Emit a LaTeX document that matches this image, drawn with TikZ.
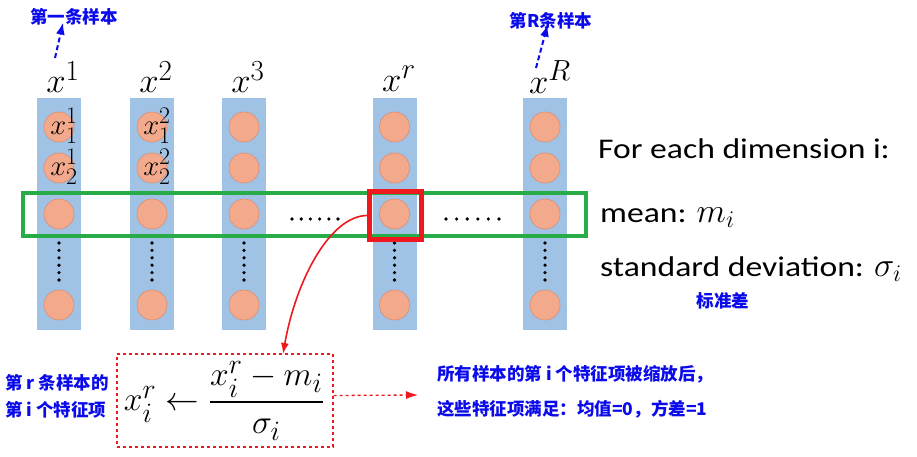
\RequirePackage{fix-cm}
\documentclass[tikz,border=0pt]{standalone}
\usepackage{fontspec}
\usepackage{amsmath}
\usepackage{graphicx}
\setsansfont{Carlito}[FakeStretch=1.18]
\newfontfamily\cjk{Noto Sans CJK SC}
\usetikzlibrary{arrows.meta,calc}
\definecolor{barblue}{RGB}{160,194,228}
\definecolor{ballfill}{RGB}{243,170,140}
\definecolor{ballline}{RGB}{222,140,110}
\definecolor{gbox}{RGB}{40,172,72}
\definecolor{rbox}{RGB}{238,24,30}
\definecolor{cnblue}{RGB}{10,10,235}
\newcommand{\bigmath}[2]{\scalebox{#1}{$#2$}}
\begin{document}
\begin{tikzpicture}[x=1pt,y=-1pt,
  bar/.style={fill=barblue,draw=none,minimum width=44pt,minimum height=232pt,inner sep=0pt},
  ball/.style={circle,fill=ballfill,draw=ballline,line width=0.6pt,minimum size=30pt,inner sep=0pt},
  mathlabel/.style={inner sep=0pt,font=\fontsize{24.88}{28}\selectfont},
  cntext/.style={inner sep=0pt,text=cnblue,font=\fontsize{17.5}{20}\selectfont\cjk\bfseries},
  entext/.style={inner sep=0pt,anchor=base west,font=\fontsize{28.5}{32}\selectfont\sffamily},
  bluearrow/.style={cnblue,line width=2pt,dash pattern=on 5pt off 3pt,-{Latex[length=12pt,width=9pt]}},
  dotc/.style={fill=black}]
\useasboundingbox (0,0) rectangle (917,457);
% columns
\foreach \c/\x in {1/59,2/152,3/244,r/394.5,R/545}{
  \node[bar] (bar\c) at (\x,214) {};
  \node[ball] (c\c-1) at (\x,127) {};
  \node[ball] (c\c-2) at (\x,168) {};
  \node[ball] (c\c-3) at (\x,214) {};
  \node[ball] (c\c-4) at (\x,305) {};
  \foreach \k in {0,...,5}{\fill[dotc] (\x,243+\k*7.4) circle (1.8pt);}
}
% column labels
\node[mathlabel] (lab1) at (63,77) {\bigmath{1.4}{x^1}};
\node[mathlabel] (lab2) at (156,77) {\bigmath{1.4}{x^2}};
\node[mathlabel] (lab3) at (248,77) {\bigmath{1.4}{x^3}};
\node[mathlabel] (labr) at (399,79) {\bigmath{1.4}{x^r}};
\node[mathlabel] (labR) at (550,77) {\bigmath{1.4}{x^R}};
% inner labels
\node[mathlabel] (l11) at (64,126) {\bigmath{1.15}{x_1^1}};
\node[mathlabel] (l12) at (64,167) {\bigmath{1.15}{x_2^1}};
\node[mathlabel] (l21) at (157,126) {\bigmath{1.15}{x_1^2}};
\node[mathlabel] (l22) at (157,167) {\bigmath{1.15}{x_2^2}};
% horizontal dots
\foreach \k in {0,...,5}{
  \fill[dotc] (292+\k*9.2,219) circle (1.8pt);
  \fill[dotc] (446+\k*10.6,219) circle (1.8pt);
}
% row boxes
\node[draw=gbox,line width=4pt,minimum width=563pt,minimum height=43pt,inner sep=0pt] (rowbox) at (304.5,214.5) {};
\node[draw=rbox,line width=5pt,minimum width=52pt,minimum height=48pt,inner sep=0pt] (redsq) at (395.5,215.5) {};
% right text
\node[entext] (dimtxt) at (598,159) {For each dimension i:};
\node[entext] (meantxt) at (600,222) {mean: \bigmath{1.2}{m_i}};
\node[entext] (stdtxt) at (600,276) {standard deviation: \bigmath{1.2}{\sigma_i}};
\node[cntext] (biaozhun) at (723,301) {标准差};
% top labels
\node[cntext] (t1) at (74,17) {第一条样本};
\node[cntext] (tR) at (551,21) {第R条样本};
\coordinate (a1) at (55,58);
\coordinate (aR) at (536,68);
\draw[bluearrow] (a1) -- ($(t1.south west)+(33,-3)$);
\draw[bluearrow] (aR) -- ($(tR.south west)+(38,-5)$);
% formula
\node[draw=rbox,dashed,line width=1.3pt,minimum width=216pt,minimum height=93pt,inner sep=0pt] (fbox) at (225,400.5) {};
\node[mathlabel] (formula) at (224,401) {\bigmath{1.35}{x_i^r \leftarrow \dfrac{x_i^r - m_i}{\sigma_i}}};
\coordinate (tip) at (283,354);
\draw[rbox,line width=1.6pt,-{Latex[length=11pt,width=8pt]}] (redsq.west) .. controls (330,216) and (296,280) .. (tip);
% left text
\node[cntext,anchor=west] (lt1) at (5,383) {第 r 条样本的};
\node[cntext,anchor=west] (lt2) at (5,410) {第 i 个特征项};
% right bottom text
\node[cntext,anchor=west] (rt1) at (437,374) {所有样本的第 i 个特征项被缩放后，};
\node[cntext,anchor=west] (rt2) at (437,409) {这些特征项满足：均值=0，方差=1};
\coordinate (aend) at (418,395);
\draw[rbox,line width=1.3pt,dashed,-{Latex[length=12pt,width=8pt]}] ($(fbox.east)+(0,-5)$) -- (aend);
\end{tikzpicture}
\end{document}
